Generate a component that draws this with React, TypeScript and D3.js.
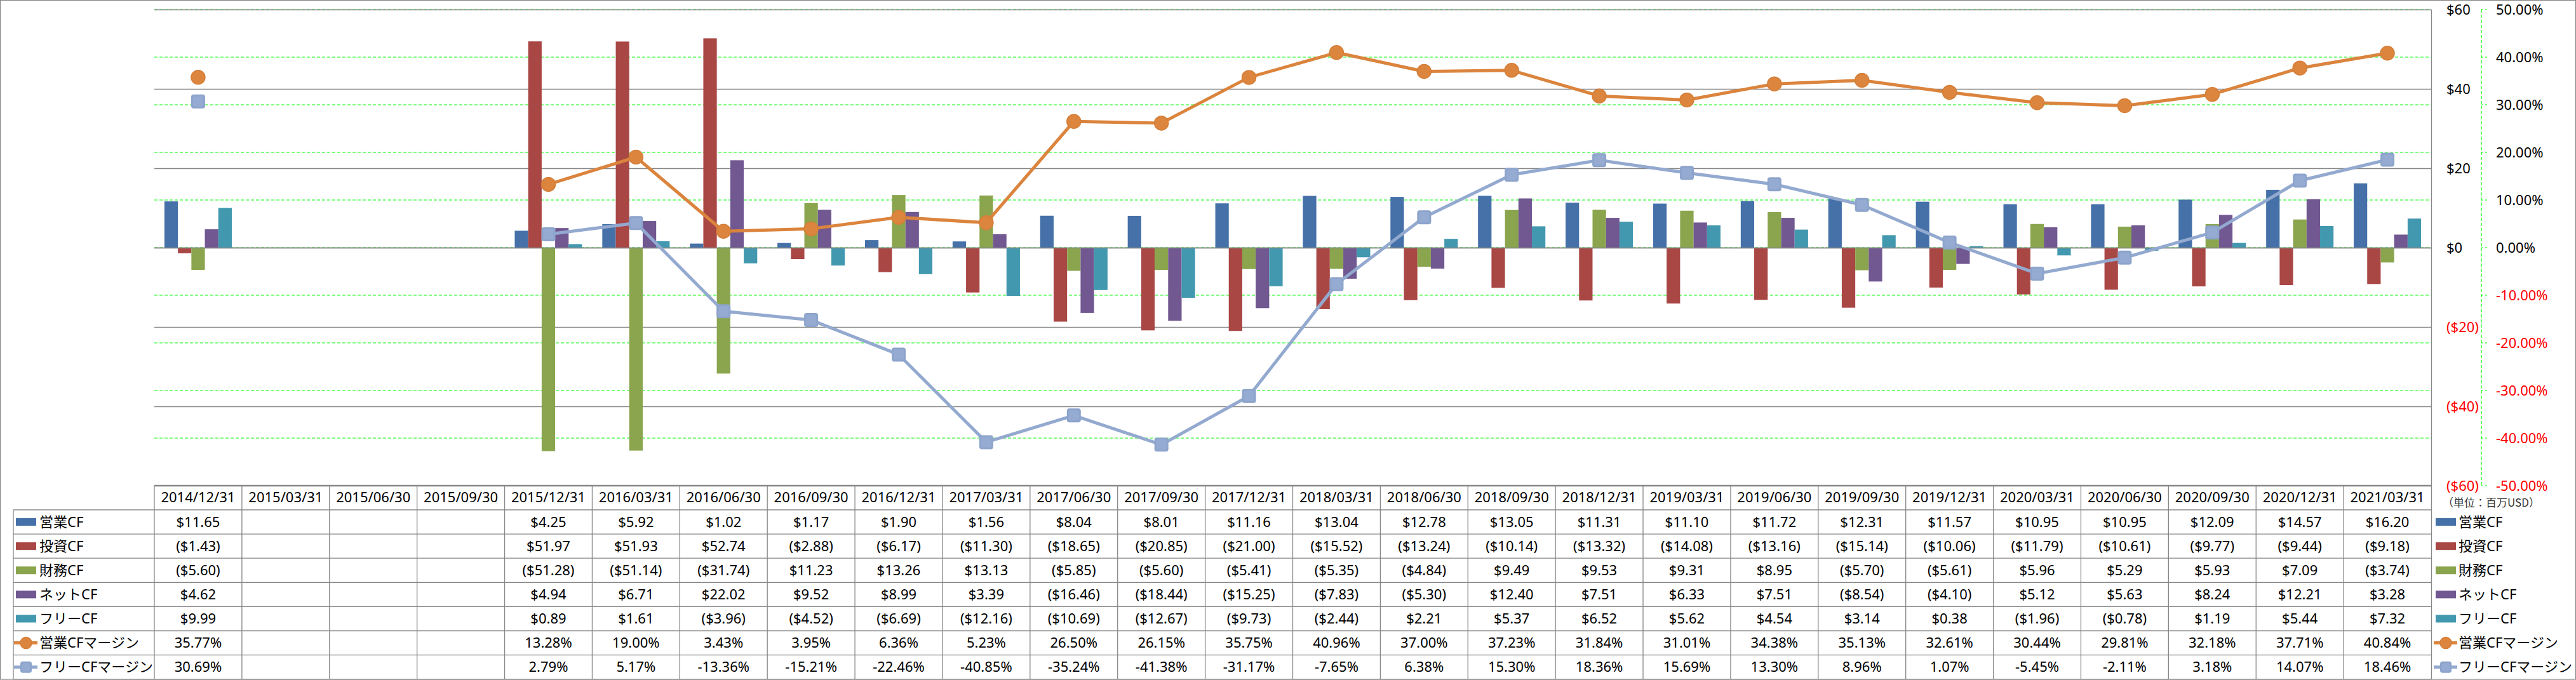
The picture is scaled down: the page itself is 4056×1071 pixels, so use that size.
import React from "react";
import * as d3 from "d3";

const categories = [
  "2014/12/31", "2015/03/31", "2015/06/30", "2015/09/30", "2015/12/31", "2016/03/31",
  "2016/06/30", "2016/09/30", "2016/12/31", "2017/03/31", "2017/06/30", "2017/09/30",
  "2017/12/31", "2018/03/31", "2018/06/30", "2018/09/30", "2018/12/31", "2019/03/31",
  "2019/06/30", "2019/09/30", "2019/12/31", "2020/03/31", "2020/06/30", "2020/09/30",
  "2020/12/31", "2021/03/31",
];

type V = number | null;
const opCF: V[] = [11.65, null, null, null, 4.25, 5.92, 1.02, 1.17, 1.90, 1.56, 8.04, 8.01, 11.16, 13.04, 12.78, 13.05, 11.31, 11.10, 11.72, 12.31, 11.57, 10.95, 10.95, 12.09, 14.57, 16.20];
const invCF: V[] = [-1.43, null, null, null, 51.97, 51.93, 52.74, -2.88, -6.17, -11.30, -18.65, -20.85, -21.00, -15.52, -13.24, -10.14, -13.32, -14.08, -13.16, -15.14, -10.06, -11.79, -10.61, -9.77, -9.44, -9.18];
const finCF: V[] = [-5.60, null, null, null, -51.28, -51.14, -31.74, 11.23, 13.26, 13.13, -5.85, -5.60, -5.41, -5.35, -4.84, 9.49, 9.53, 9.31, 8.95, -5.70, -5.61, 5.96, 5.29, 5.93, 7.09, -3.74];
const netCF: V[] = [4.62, null, null, null, 4.94, 6.71, 22.02, 9.52, 8.99, 3.39, -16.46, -18.44, -15.25, -7.83, -5.30, 12.40, 7.51, 6.33, 7.51, -8.54, -4.10, 5.12, 5.63, 8.24, 12.21, 3.28];
const freeCF: V[] = [9.99, null, null, null, 0.89, 1.61, -3.96, -4.52, -6.69, -12.16, -10.69, -12.67, -9.73, -2.44, 2.21, 5.37, 6.52, 5.62, 4.54, 3.14, 0.38, -1.96, -0.78, 1.19, 5.44, 7.32];
const opMargin: V[] = [35.77, null, null, null, 13.28, 19.00, 3.43, 3.95, 6.36, 5.23, 26.50, 26.15, 35.75, 40.96, 37.00, 37.23, 31.84, 31.01, 34.38, 35.13, 32.61, 30.44, 29.81, 32.18, 37.71, 40.84];
const freeMargin: V[] = [30.69, null, null, null, 2.79, 5.17, -13.36, -15.21, -22.46, -40.85, -35.24, -41.38, -31.17, -7.65, 6.38, 15.30, 18.36, 15.69, 13.30, 8.96, 1.07, -5.45, -2.11, 3.18, 14.07, 18.46];

const barNames = ["営業CF", "投資CF", "財務CF", "ネットCF", "フリーCF"];
const barColors = ["#4571A8", "#A94745", "#8AA54D", "#715891", "#4298AF"];
const barSeries = [opCF, invCF, finCF, netCF, freeCF];
const lineNames = ["営業CFマージン", "フリーCFマージン"];
const lineColors = ["#DB843D", "#93A9CF"];
const lineSeries = [opMargin, freeMargin];

const leftTicks = [60, 40, 20, 0, -20, -40, -60];
const rightTicks = [50, 40, 30, 20, 10, 0, -10, -20, -30, -40, -50];

const W = 4056, H = 1071;
const plotL = 243, plotR = 3828, plotT = 15, plotB = 765;
const FONT = "'Noto Sans','Noto Sans CJK JP',sans-serif";
const GREY = "#878787";
const GREEN = "#00FF00";

const fmtMoney = (v: V) => (v == null ? "" : v < 0 ? `($${Math.abs(v).toFixed(2)})` : `$${v.toFixed(2)}`);
const fmtPct = (v: V) => (v == null ? "" : `${v.toFixed(2)}%`);
const fmtAxisMoney = (v: number) => (v < 0 ? `($${Math.abs(v)})` : `$${v}`);

function Marker({ kind, x, y, size }: { kind: number; x: number; y: number; size: number }) {
  if (kind === 0) {
    return <circle cx={x} cy={y} r={size / 2} fill="#DC853E" stroke="#D57E37" strokeWidth={1.5} />;
  }
  return (
    <g>
      <rect x={x - size / 2} y={y - size / 2} width={size} height={size} rx={4} fill="#8DA4CC" />
      <rect x={x - size / 2 + 3} y={y - size / 2 + 3} width={size - 6} height={size - 6} rx={2} fill="#95ABD2" />
    </g>
  );
}

export default function App() {
  const x = d3.scaleBand<string>().domain(categories).range([plotL, plotR]).paddingInner(0).paddingOuter(0);
  const bw = x.bandwidth();
  const groupW = bw / 1.3;
  const inner = d3.scaleBand<string>().domain(barNames).range([(bw - groupW) / 2, (bw + groupW) / 2]);
  const yL = d3.scaleLinear().domain([-60, 60]).range([plotB, plotT]);
  const yR = d3.scaleLinear().domain([-50, 50]).range([plotB, plotT]);

  const tableTop = 764;
  const headerH = 39;
  const rowH = 38.1;
  const rowY = (i: number) => tableTop + headerH + i * rowH;
  const rowsAll: { name: string; vals: V[]; fmt: (v: V) => string; kind: "bar" | "line"; idx: number }[] = [
    ...barNames.map((n, i) => ({ name: n, vals: barSeries[i], fmt: fmtMoney, kind: "bar" as const, idx: i })),
    ...lineNames.map((n, i) => ({ name: n, vals: lineSeries[i], fmt: fmtPct, kind: "line" as const, idx: i })),
  ];

  const lineGen = d3
    .line<V>()
    .defined((d) => d != null)
    .x((_, i) => (x(categories[i]) as number) + bw / 2)
    .y((d) => yR(d as number));

  const axisX = 3907;

  const legendKey = (r: (typeof rowsAll)[number], x0: number, cy: number) => {
    if (r.kind === "bar") {
      return <rect x={x0} y={cy - 6} width={32} height={12} fill={barColors[r.idx]} />;
    }
    return (
      <g>
        <line x1={x0 - 3} x2={x0 + 34} y1={cy} y2={cy} stroke={lineColors[r.idx]} strokeWidth={5} />
        <Marker kind={r.idx} x={x0 + 16} y={cy} size={18} />
      </g>
    );
  };

  return (
    <svg width={W} height={H} style={{ position: "absolute", left: 0, top: 0, background: "#fff" }} fontFamily={FONT}>
      <rect x={0} y={0} width={W} height={H} fill="#fff" />
      {/* secondary gridlines (green dashed) */}
      {rightTicks.map((t) => (
        <line key={"g" + t} x1={plotL} x2={plotR} y1={yR(t)} y2={yR(t)} stroke={GREEN} strokeWidth={1.2} strokeDasharray="5,3" />
      ))}
      {/* primary gridlines (grey) */}
      {leftTicks.map((t) => (
        <line key={"p" + t} x1={plotL} x2={plotR} y1={Math.round(yL(t)) + 0.5} y2={Math.round(yL(t)) + 0.5} stroke={GREY} strokeWidth={1.3} />
      ))}
      {/* bars */}
      {barSeries.map((s, si) =>
        s.map((v, ci) =>
          v == null ? null : (
            <rect
              key={`b${si}-${ci}`}
              x={(x(categories[ci]) as number) + (inner(barNames[si]) as number)}
              y={Math.min(yL(v), yL(0))}
              width={inner.bandwidth()}
              height={Math.abs(yL(v) - yL(0))}
              fill={barColors[si]}
            />
          )
        )
      )}
      <line x1={plotL} x2={plotR} y1={Math.round(yL(0)) + 0.5} y2={Math.round(yL(0)) + 0.5} stroke={GREY} strokeWidth={1.3} />
      {/* lines */}
      {lineSeries.map((s, li) => (
        <g key={"l" + li}>
          <path d={lineGen(s) || ""} fill="none" stroke={lineColors[li]} strokeWidth={5} strokeLinejoin="round" />
          {s.map((v, ci) =>
            v == null ? null : (
              <Marker key={ci} kind={li} x={(x(categories[ci]) as number) + bw / 2} y={yR(v)} size={22} />
            )
          )}
        </g>
      ))}
      {/* primary axis line (right) */}
      <line x1={plotR + 0.5} x2={plotR + 0.5} y1={plotT} y2={1070} stroke={GREY} strokeWidth={1.3} />
      {leftTicks.map((t) => (
        <text key={"lt" + t} x={3852} y={yL(t)} dy="0.35em" fontSize={22} fill={t < 0 ? "#FF0000" : "#000"}>
          {fmtAxisMoney(t)}
        </text>
      ))}
      {/* secondary axis */}
      <line x1={axisX} x2={axisX} y1={plotT} y2={plotB} stroke={GREEN} strokeWidth={1.2} strokeDasharray="5,3" />
      {rightTicks.map((t) => (
        <g key={"rt" + t}>
          <line x1={axisX} x2={axisX + 9} y1={yR(t)} y2={yR(t)} stroke={GREEN} strokeWidth={1.2} strokeDasharray="3,3" />
          <text x={3930} y={yR(t)} dy="0.35em" fontSize={22} fill={t < 0 ? "#FF0000" : "#000"}>
            {`${t.toFixed(2)}%`}
          </text>
        </g>
      ))}
      <text x={3846} y={792} dy="0.35em" fontSize={17} fill="#333" fontFamily="'Noto Sans CJK JP',sans-serif">
        （単位：百万USD）
      </text>
      {/* data table */}
      <line x1={plotL} x2={plotR} y1={tableTop + 0.5} y2={tableTop + 0.5} stroke={GREY} strokeWidth={1.3} />
      {rowsAll.map((_, i) => (
        <line key={"hr" + i} x1={21} x2={plotR} y1={rowY(i)} y2={rowY(i)} stroke={GREY} strokeWidth={1.3} />
      ))}
      <line x1={21} x2={plotR} y1={rowY(7)} y2={rowY(7)} stroke={GREY} strokeWidth={1.3} />
      <line x1={21} x2={21} y1={rowY(0)} y2={rowY(7)} stroke={GREY} strokeWidth={1.3} />
      {categories.map((c) => (
        <line key={"vl" + c} x1={x(c) as number} x2={x(c) as number} y1={tableTop} y2={rowY(7)} stroke={GREY} strokeWidth={1.3} />
      ))}
      {categories.map((c) => (
        <text key={"hd" + c} x={(x(c) as number) + bw / 2} y={tableTop + headerH / 2} dy="0.35em" fontSize={22} textAnchor="middle" fill="#000">
          {c}
        </text>
      ))}
      {rowsAll.map((r, ri) => {
        const cy = rowY(ri) + rowH / 2;
        return (
          <g key={"row" + ri}>
            {legendKey(r, 25, cy)}
            <text x={62} y={cy} dy="0.35em" fontSize={22} fill="#000">
              {r.name}
            </text>
            {r.vals.map((v, ci) => (
              <text key={ci} x={(x(categories[ci]) as number) + bw / 2} y={cy} dy="0.35em" fontSize={22} textAnchor="middle" fill="#000">
                {r.fmt(v)}
              </text>
            ))}
            {/* right legend */}
            {legendKey(r, 3835, cy)}
            <text x={3871} y={cy} dy="0.35em" fontSize={22} fill="#000">
              {r.name}
            </text>
          </g>
        );
      })}
      {/* outer border */}
      <rect x={0.5} y={0.5} width={W - 1} height={H - 1.5} fill="none" stroke={GREY} strokeWidth={1.3} />
    </svg>
  );
}
